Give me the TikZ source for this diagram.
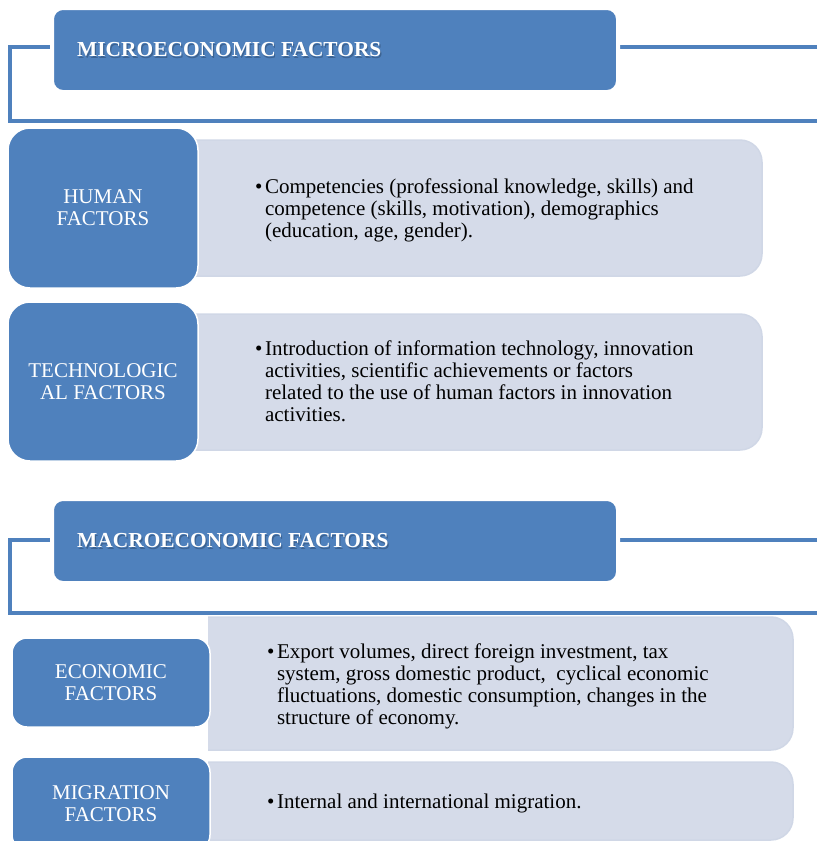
\documentclass[tikz,border=0pt]{standalone}
\usepackage{fontspec}
\setmainfont{Liberation Serif}
\definecolor{accent}{HTML}{4F81BD}
\definecolor{paleblue}{HTML}{D5DBE9}
\definecolor{paleedge}{HTML}{D0D7E6}
\definecolor{textshade}{HTML}{2E4B70}
\newcommand{\bodyfont}{\fontsize{21}{22}\selectfont}
\newcommand{\headfont}{\fontsize{21.4}{22}\selectfont\bfseries}
\begin{document}
\begin{tikzpicture}[x=1pt,y=-1pt,
  frame/.style={draw=accent, line width=4},
  header/.style={rectangle, rounded corners=11, fill=accent, draw=white,
    line width=4, minimum width=566, minimum height=84},
  headtext/.style={anchor=west, inner sep=0, text=white, font=\headfont},
  headshade/.style={anchor=west, inner sep=0, text=textshade, opacity=0.55,
    font=\headfont},
  catbox/.style={rectangle, fill=accent, draw=white, line width=1.5,
    text=white, align=center, font=\bodyfont},
  detailbox/.style={rectangle, rounded corners=22, fill=paleblue,
    draw=paleedge, line width=1.5},
  bullets/.style={anchor=west, inner sep=0, font=\bodyfont}]
\useasboundingbox (0,0) rectangle (817,841);

% ---------- microeconomic group ----------
\draw[frame] (817,47) -- (10,47) -- (10,121) -- (817,121);
\node[header] (micro) at (335,50) {};
\node[headshade] (microshade) at (78.2,51.2) {MICROECONOMIC FACTORS};
\node[headtext] (microtext) at (77,50) {MICROECONOMIC FACTORS};

\node[detailbox, minimum width=592, minimum height=136] (humand) at (466,208) {};
\node[catbox, rounded corners=22, minimum width=190, minimum height=160]
  (human) at (103,208) {HUMAN\\FACTORS};
\node[bullets] (humant) at (255,211) {\begin{tabular}{@{}l@{}l@{}}
\textbullet\hspace{2.5pt} & Competencies (professional knowledge, skills) and\\
 & competence (skills, motivation), demographics\\
 & (education, age, gender).
\end{tabular}};

\node[detailbox, minimum width=592, minimum height=136] (techd) at (466,382) {};
\node[catbox, rounded corners=22, minimum width=190, minimum height=159]
  (tech) at (103,381.5) {TECHNOLOGIC\\AL FACTORS};
\node[bullets] (techt) at (255,384) {\begin{tabular}{@{}l@{}l@{}}
\textbullet\hspace{2.5pt} & Introduction of information technology, innovation\\
 & activities, scientific achievements or factors\\
 & related to the use of human factors in innovation\\
 & activities.
\end{tabular}};

% ---------- macroeconomic group ----------
\draw[frame] (817,540) -- (10,540) -- (10,613) -- (817,613);
\node[header] (macro) at (335,541) {};
\node[headshade] (macroshade) at (78.2,542.2) {MACROECONOMIC FACTORS};
\node[headtext] (macrotext) at (77,541) {MACROECONOMIC FACTORS};

% the pale panels of this group start square at the category column
\begin{scope}
  \clip (208,615) rectangle (817,841);
  \node[detailbox, minimum width=613, minimum height=133] (econd) at (486.5,683.5) {};
  \node[detailbox, minimum width=613, minimum height=78] (migrd) at (486.5,801) {};
\end{scope}

\node[catbox, rounded corners=15, minimum width=198, minimum height=89]
  (econ) at (111,682.5) {ECONOMIC\\FACTORS};
\node[bullets] (econt) at (267,687.5) {\begin{tabular}{@{}l@{}l@{}}
\textbullet\hspace{2.5pt} & Export volumes, direct foreign investment, tax\\
 & system, gross domestic product, \ cyclical economic\\
 & fluctuations, domestic consumption, changes in the\\
 & structure of economy.
\end{tabular}};

\node[catbox, rounded corners=15, minimum width=198, minimum height=93]
  (migr) at (111,803.5) {MIGRATION\\FACTORS};
\node[bullets] (migrt) at (267,804) {\begin{tabular}{@{}l@{}l@{}}
\textbullet\hspace{2.5pt} & Internal and international migration.
\end{tabular}};
\end{tikzpicture}
\end{document}
